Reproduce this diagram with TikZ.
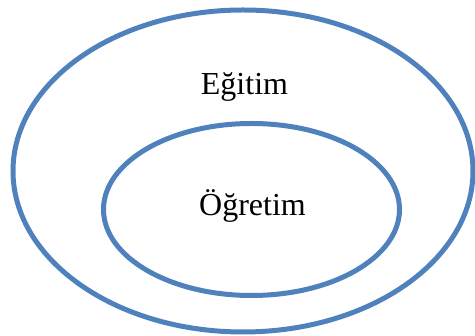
\documentclass[tikz,border=0pt]{standalone}
\usepackage{fontspec}
\setmainfont{Liberation Serif}
\usetikzlibrary{shapes.geometric}
\definecolor{RingBlue}{RGB}{79,129,189}
\tikzset{
  ring/.style={ellipse,draw=RingBlue,line width=5pt,inner sep=0pt,fill=none},
  word/.style={font=\fontsize{32}{38}\selectfont,text=black,anchor=base,inner sep=0pt}
}
\begin{document}
\begin{tikzpicture}[x=1pt,y=1pt]
  \useasboundingbox (0,0) rectangle (475,336);
  \node[ring,minimum width=460pt,minimum height=322pt] (outer) at (243,165) {};
  \node[ring,minimum width=296pt,minimum height=172pt] (inner) at (251.5,126.5) {};
  \node[word] (egitim) at (244.5,241) {Eğitim};
  \node[word] (ogretim) at (252.5,120.3) {Öğretim};
\end{tikzpicture}
\end{document}
